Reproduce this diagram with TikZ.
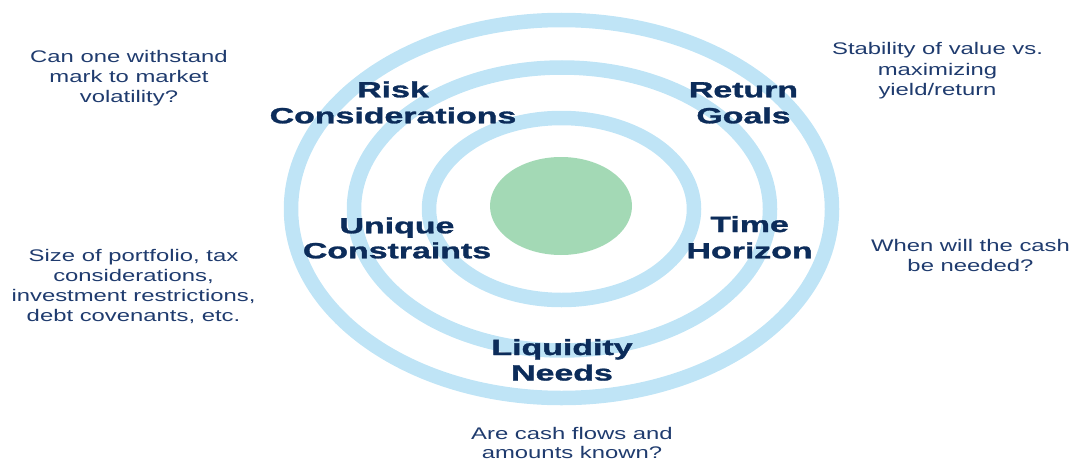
\documentclass[tikz,border=0pt]{standalone}
\usepackage{graphicx}
\usepackage{fontspec}
\usetikzlibrary{shapes.geometric}
\setmainfont{Liberation Sans}
\newfontfamily\heavyfont{Liberation Sans Bold}[FakeBold=1.2]
\definecolor{ringblue}{HTML}{BFE4F6}
\definecolor{coregreen}{HTML}{A3D9B5}
\definecolor{labelnavy}{HTML}{0C2C5A}
\definecolor{notenavy}{HTML}{1F3B6E}
\newcommand\widebig[1]{\scalebox{1.54}[1]{#1}}
\newcommand\widesmall[1]{\scalebox{1.42}[1]{#1}}
\begin{document}
\begin{tikzpicture}[x=1pt,y=-1pt,
  ring/.style={draw=ringblue, line width=14.5pt},
  lbl/.style={font=\fontsize{22}{26}\selectfont\heavyfont, text=labelnavy, anchor=base, inner sep=0pt},
  note/.style={font=\fontsize{16.8}{20}\selectfont, text=notenavy, anchor=base, inner sep=0pt}]
\useasboundingbox (0,0) rectangle (1073,460);
% rings
\draw[ring] (561.5,209) ellipse [x radius=270.5pt, y radius=189pt];
\draw[ring] (562,209) ellipse [x radius=208pt, y radius=141.5pt];
\draw[ring] (561.5,209) ellipse [x radius=132.5pt, y radius=91pt];
\node[fill=coregreen, ellipse, draw=none, minimum width=142pt, minimum height=98pt, inner sep=0pt] (core) at (561,206) {};
% ring labels
\node[lbl] (risk1) at (393,97.3) {\widebig{Risk}};
\node[lbl] (risk2) at (393,123.3) {\widebig{Considerations}};
\node[lbl] (ret1) at (743.5,97.3) {\widebig{Return}};
\node[lbl] (ret2) at (743.5,123.3) {\widebig{Goals}};
\node[lbl] (uni1) at (397,233.3) {\widebig{Unique}};
\node[lbl] (uni2) at (397,258.3) {\widebig{Constraints}};
\node[lbl] (time1) at (749.6,232) {\widebig{Time}};
\node[lbl] (time2) at (749.6,258.3) {\widebig{Horizon}};
\node[lbl] (liq1) at (562,355) {\widebig{Liquidity}};
\node[lbl] (liq2) at (562,380.5) {\widebig{Needs}};
% notes
\node[note] (na1) at (129,62.7) {\widesmall{Can one withstand}};
\node[note] (na2) at (129,82.7) {\widesmall{mark to market}};
\node[note] (na3) at (129,102.7) {\widesmall{volatility?}};
\node[note] (nb1) at (133.5,261.7) {\widesmall{Size of portfolio, tax}};
\node[note] (nb2) at (133.5,281.7) {\widesmall{considerations,}};
\node[note] (nb3) at (133.5,301.7) {\widesmall{investment restrictions,}};
\node[note] (nb4) at (133.5,321.7) {\widesmall{debt covenants, etc.}};
\node[note] (nc1) at (937.5,55) {\widesmall{Stability of value vs.}};
\node[note] (nc2) at (937.5,75) {\widesmall{maximizing}};
\node[note] (nc3) at (937.5,95) {\widesmall{yield/return}};
\node[note] (nd1) at (970.5,251.7) {\widesmall{When will the cash}};
\node[note] (nd2) at (970.5,271) {\widesmall{be needed?}};
\node[note] (ne1) at (572,439) {\widesmall{Are cash flows and}};
\node[note] (ne2) at (572,458) {\widesmall{amounts known?}};
\end{tikzpicture}
\end{document}
